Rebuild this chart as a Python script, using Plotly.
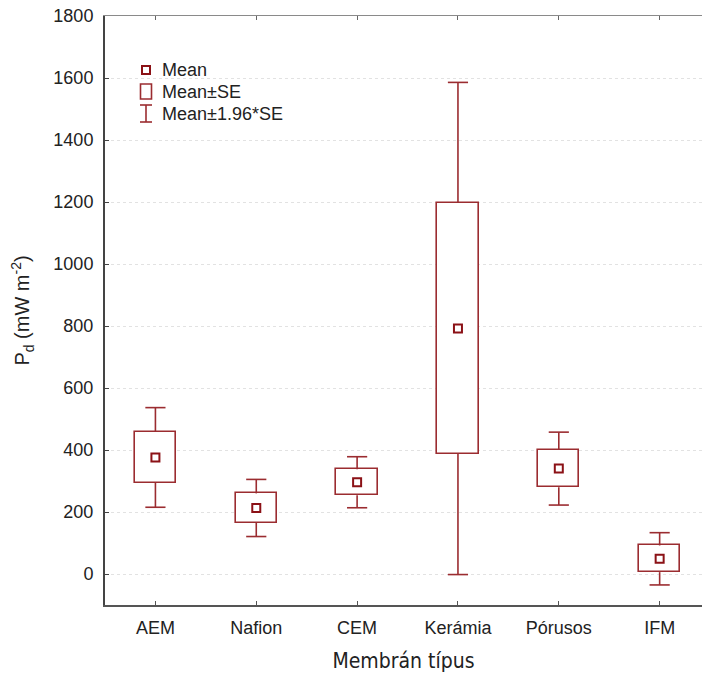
import plotly.graph_objects as go

categories = ["AEM", "Nafion", "CEM", "Kerámia", "Pórusos", "IFM"]
means = [376, 213, 296, 792, 340, 49]
se = [82, 47, 42, 405, 60, 43]

W, H = 702, 673
ML, MR, MT, MB = 105, 0, 16, 68
RED = "#9B2C30"
DARK = "#8B1116"
TXT = "#222222"
BOX_W = 0.41
CAP = 0.1
XR = [-0.5, 5.42]

x_pos = list(range(len(categories)))
q1 = [m - s for m, s in zip(means, se)]
q3 = [m + s for m, s in zip(means, se)]
lo = [m - 1.96 * s for m, s in zip(means, se)]
hi = [m + 1.96 * s for m, s in zip(means, se)]

fig = go.Figure()
fig.add_trace(go.Bar(
    x=x_pos, base=q1, y=[b - a for a, b in zip(q1, q3)], width=BOX_W,
    marker=dict(color="white", line=dict(color=RED, width=1.6)),
    showlegend=False, hoverinfo="skip",
))
wx, wy = [], []
for x, a, b, l, h in zip(x_pos, q1, q3, lo, hi):
    wx += [x, x, None, x - CAP, x + CAP, None, x, x, None, x - CAP, x + CAP, None]
    wy += [b, h, None, h, h, None, a, l, None, l, l, None]
fig.add_trace(go.Scatter(x=wx, y=wy, mode="lines", line=dict(color=RED, width=1.6),
                         showlegend=False, hoverinfo="skip"))
fig.add_trace(go.Scatter(
    x=x_pos, y=means, mode="markers",
    marker=dict(symbol="square-open", size=8, color=DARK, line=dict(width=2, color=DARK)),
    showlegend=False,
))
# invisible trace for the top axis
fig.add_trace(go.Scatter(x=[x_pos[0]], y=[means[0]], xaxis="x2", mode="markers",
                         marker=dict(opacity=0), showlegend=False, hoverinfo="skip"))

pw = W - ML - MR
ph = H - MT - MB


def px(x):
    return (x - ML) / pw


def py(y):
    return (H - MB - y) / ph


shapes = []
shapes.append(dict(type="rect", xref="paper", yref="paper", x0=px(142), x1=px(150), y0=py(74), y1=py(66),
                   line=dict(color=DARK, width=2)))
shapes.append(dict(type="rect", xref="paper", yref="paper", x0=px(140.5), x1=px(151.5), y0=py(99), y1=py(84),
                   line=dict(color=RED, width=1.6)))
shapes.append(dict(type="line", xref="paper", yref="paper", x0=px(146), x1=px(146), y0=py(122), y1=py(105),
                   line=dict(color=RED, width=1.6)))
shapes.append(dict(type="line", xref="paper", yref="paper", x0=px(140), x1=px(152), y0=py(105), y1=py(105),
                   line=dict(color=RED, width=1.6)))
shapes.append(dict(type="line", xref="paper", yref="paper", x0=px(140), x1=px(152), y0=py(122), y1=py(122),
                   line=dict(color=RED, width=1.6)))

annotations = []
for label, yy in [("Mean", 70), ("Mean±SE", 92), ("Mean±1.96*SE", 114)]:
    annotations.append(dict(text=label, xref="paper", yref="paper", x=px(160), y=py(yy),
                            xanchor="left", yanchor="middle", showarrow=False,
                            font=dict(family="Liberation Sans, Arial", size=18, color=TXT)))

fig.update_layout(
    width=W, height=H,
    margin=dict(l=ML, r=MR, t=MT, b=MB),
    paper_bgcolor="white", plot_bgcolor="white",
    shapes=shapes, annotations=annotations,
    font=dict(family="Liberation Sans, Arial", size=18, color=TXT),
    bargap=0,
    xaxis=dict(
        range=XR, tickvals=x_pos, ticktext=categories,
        showgrid=False, zeroline=False,
        showline=True, linecolor="#555555", linewidth=2,
        ticks="inside", ticklen=4, tickcolor="#555555", tickwidth=1,
        tickfont=dict(family="Liberation Sans, Arial", size=18, color=TXT),
        ticklabelstandoff=5,
        title=dict(text="Membrán típus", standoff=18,
                   font=dict(family="DejaVu Sans Condensed", size=21, color=TXT)),
    ),
    xaxis2=dict(
        range=XR, tickvals=x_pos, showticklabels=False, overlaying="x", side="top",
        anchor="y", showgrid=False, zeroline=False,
        showline=True, linecolor="#8a8a8a", linewidth=1.2,
        ticks="inside", ticklen=4, tickcolor="#666666", tickwidth=1,
    ),
    yaxis=dict(
        range=[-100, 1800], tickvals=list(range(0, 1801, 200)),
        showgrid=True, gridcolor="#e2e2e2", griddash="dot", gridwidth=1,
        zeroline=False,
        showline=True, linecolor="#444444", linewidth=2,
        ticks="inside", ticklen=4, tickcolor="#444444",
        tickfont=dict(family="Liberation Sans, Arial", size=18, color=TXT),
        ticklabelstandoff=6,
        title=dict(text="P<sub>d</sub> (mW m<sup>-2</sup>)", standoff=18,
                   font=dict(family="Liberation Sans, Arial", size=20, color=TXT)),
    ),
)

fig.write_html("out.html", config={"displayModeBar": False},
               post_script="document.body.style.margin='0';")
